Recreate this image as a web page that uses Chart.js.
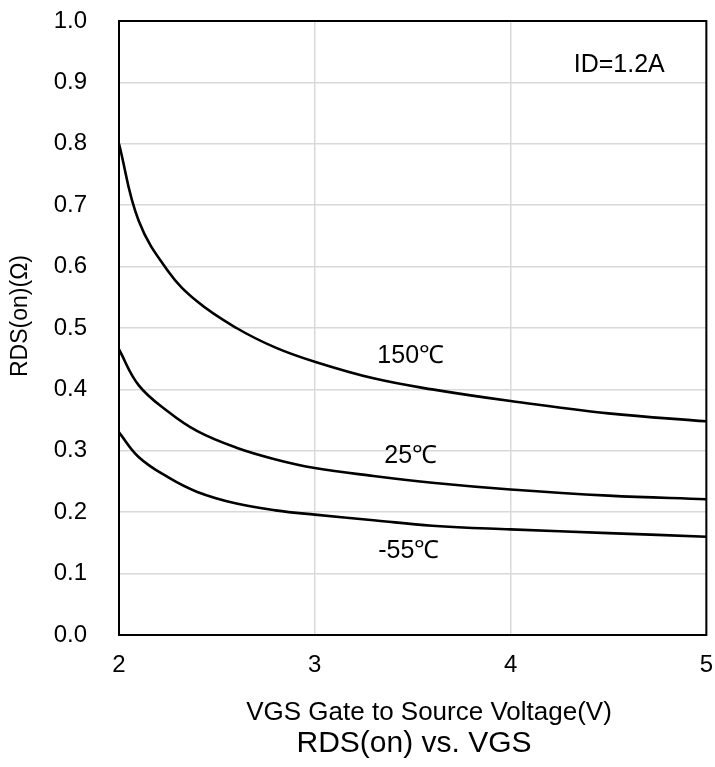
<!DOCTYPE html>
<html>
<head>
<meta charset="utf-8">
<script src="https://cdn.jsdelivr.net/npm/chart.js@4.4.1/dist/chart.umd.min.js"></script>
<style>
  body { margin: 0; background: #fff; }
  #wrap { width: 715px; height: 767px; }
</style>
</head>
<body>
<div id="wrap"><canvas id="rdsChart"></canvas></div>
<script>
// VGS values (V)
const vgs = [2.0, 2.1, 2.25, 2.4, 2.6, 2.8, 3.0, 3.3, 3.6, 4.0, 4.5, 5.0];
// RDS(on) (ohm) per temperature
const rds150 = [0.800, 0.675, 0.593, 0.543, 0.500, 0.468, 0.445, 0.418, 0.400, 0.381, 0.361, 0.348];
const rds25 = [0.465, 0.407, 0.364, 0.332, 0.305, 0.286, 0.272, 0.259, 0.248, 0.237, 0.227, 0.221];
const rdsMinus55 = [0.330, 0.290, 0.257, 0.233, 0.214, 0.203, 0.196, 0.187, 0.178, 0.172, 0.166, 0.160];

// curve labels, placed in data units
const curveLabels = [
  { text: '150℃', x: 3.49, y: 0.455 },
  { text: '25℃', x: 3.49, y: 0.292 },
  { text: '-55℃', x: 3.48, y: 0.136 },
];
const condition = { text: 'ID=1.2A', x: 4.555, y: 0.928 };

const font = 'Arial, "Liberation Sans", sans-serif';

const toPoints = (ys) => ys.map((y, i) => ({ x: vgs[i], y: y }));

const curve = (label, ys) => ({
  label: label,
  data: toPoints(ys),
  borderColor: '#000',
  borderWidth: 2.6,
  pointRadius: 0,
  fill: false,
  tension: 0.4,
});

// draws frame, labels and axis titles
const textPlugin = {
  id: 'texts',
  afterDatasetsDraw(chart) {
    const { ctx, chartArea, scales } = chart;
    const xs = scales.x, ys = scales.y;
    ctx.save();
    ctx.strokeStyle = '#000';
    ctx.lineWidth = 2;
    ctx.strokeRect(chartArea.left, chartArea.top, chartArea.right - chartArea.left, chartArea.bottom - chartArea.top);

    ctx.fillStyle = '#000';
    ctx.textAlign = 'center';
    ctx.textBaseline = 'middle';
    ctx.font = '25px ' + font;
    curveLabels.forEach(l => {
      ctx.fillText(l.text, xs.getPixelForValue(l.x), ys.getPixelForValue(l.y));
    });
    ctx.font = '25px ' + font;
    ctx.fillText(condition.text, xs.getPixelForValue(condition.x), ys.getPixelForValue(condition.y));

    // x axis title
    ctx.font = '26px ' + font;
    ctx.fillText('VGS Gate to Source Voltage(V)', 429, chartArea.bottom + 78);
    // chart title
    ctx.font = '30px ' + font;
    ctx.fillText('RDS(on) vs. VGS', 414, chartArea.bottom + 109);
    // y axis title
    ctx.font = '23px ' + font;
    ctx.translate(21, 316);
    ctx.rotate(-Math.PI / 2);
    ctx.fillText('RDS(on)(Ω)', 0, 0);
    ctx.restore();
  }
};

new Chart(document.getElementById('rdsChart'), {
  type: 'line',
  data: {
    datasets: [
      curve('150℃', rds150),
      curve('25℃', rds25),
      curve('-55℃', rdsMinus55),
    ],
  },
  options: {
    responsive: true,
    maintainAspectRatio: false,
    animation: false,
    layout: { padding: { top: 21, right: 0, left: 0, bottom: 0 } },
    plugins: {
      legend: { display: false },
      tooltip: { enabled: false },
    },
    scales: {
      x: {
        type: 'linear',
        min: 2,
        max: 5,
        afterFit: (scale) => { scale.height = 132; },
        ticks: {
          stepSize: 1,
          color: '#000',
          padding: 2,
          font: { size: 24, family: font },
        },
        grid: { color: '#d9d9d9', lineWidth: 1.5, tickLength: 14, tickColor: 'rgba(0,0,0,0)' },
        border: { display: false },
      },
      y: {
        min: 0,
        max: 1,
        afterFit: (scale) => { scale.width = 119; },
        ticks: {
          stepSize: 0.1,
          color: '#000',
          padding: 3,
          font: { size: 24, family: font },
          callback: (v) => v.toFixed(1),
        },
        grid: { color: '#d9d9d9', lineWidth: 1.5, tickLength: 29, tickColor: 'rgba(0,0,0,0)' },
        border: { display: false },
      },
    },
  },
  plugins: [textPlugin],
});
</script>
</body>
</html>
